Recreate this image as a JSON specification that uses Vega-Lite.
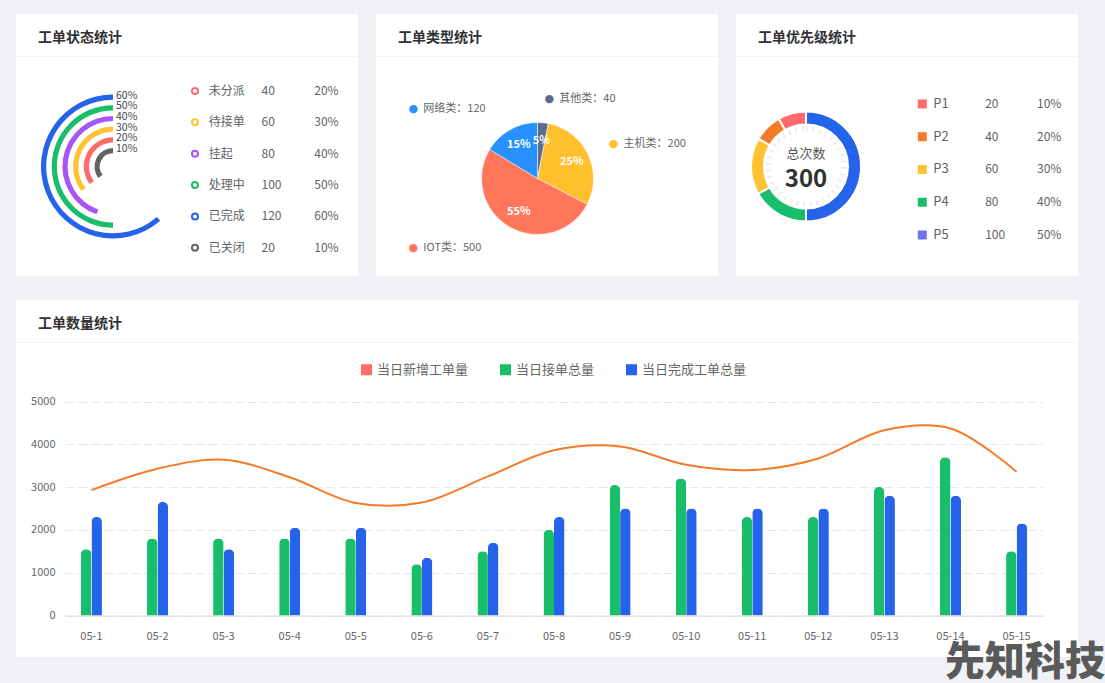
{
  "$schema": "https://vega.github.io/schema/vega-lite/v6.json",
  "background": "#f0f2f5",
  "padding": {"left": 16, "top": 14, "right": 0, "bottom": 0},
  "title": {"text": "先知科技", "orient": "bottom", "anchor": "end", "frame": "bounds", "offset": -14, "baseline": "top", "dx": 27, "fontSize": 40, "fontWeight": 900, "color": "#5a5a5a"},
  "config": {
    "font": "Noto Sans CJK SC",
    "view": {"stroke": null, "fill": "#ffffff"},
    "concat": {"spacing": 0}
  },
  "datasets": {
    "status": [
      {"status": "未分派", "count": 40, "percent": "20%", "sweep": 127},
      {"status": "待接单", "count": 60, "percent": "30%", "sweep": 128},
      {"status": "挂起", "count": 80, "percent": "40%", "sweep": 161},
      {"status": "处理中", "count": 100, "percent": "50%", "sweep": 180},
      {"status": "已完成", "count": 120, "percent": "60%", "sweep": 221},
      {"status": "已关闭", "count": 20, "percent": "10%", "sweep": 128}
    ],
    "types": [
      {"type": "其他类", "count": 40, "pct": "5%", "share": 3.1, "label": "其他类：40"},
      {"type": "主机类", "count": 200, "pct": "25%", "share": 29.5, "label": "主机类：200"},
      {"type": "IOT类", "count": 500, "pct": "55%", "share": 51.1, "label": "IOT类：500"},
      {"type": "网络类", "count": 120, "pct": "15%", "share": 16.3, "label": "网络类：120"}
    ],
    "levels": [
      {"level": "P1", "count": 20, "percent": "10%", "share": 8.3},
      {"level": "P2", "count": 40, "percent": "20%", "share": 8.3},
      {"level": "P3", "count": 60, "percent": "30%", "share": 16.7},
      {"level": "P4", "count": 80, "percent": "40%", "share": 16.7},
      {"level": "P5", "count": 100, "percent": "50%", "share": 50}
    ],
    "daily": [
      {"day": "05-1", "series": "当日新增工单量", "value": 2930},
      {"day": "05-1", "series": "当日接单总量", "value": 1550},
      {"day": "05-1", "series": "当日完成工单总量", "value": 2300},
      {"day": "05-2", "series": "当日新增工单量", "value": 3430},
      {"day": "05-2", "series": "当日接单总量", "value": 1800},
      {"day": "05-2", "series": "当日完成工单总量", "value": 2650},
      {"day": "05-3", "series": "当日新增工单量", "value": 3640},
      {"day": "05-3", "series": "当日接单总量", "value": 1800},
      {"day": "05-3", "series": "当日完成工单总量", "value": 1550},
      {"day": "05-4", "series": "当日新增工单量", "value": 3230},
      {"day": "05-4", "series": "当日接单总量", "value": 1800},
      {"day": "05-4", "series": "当日完成工单总量", "value": 2050},
      {"day": "05-5", "series": "当日新增工单量", "value": 2630},
      {"day": "05-5", "series": "当日接单总量", "value": 1800},
      {"day": "05-5", "series": "当日完成工单总量", "value": 2050},
      {"day": "05-6", "series": "当日新增工单量", "value": 2640},
      {"day": "05-6", "series": "当日接单总量", "value": 1200},
      {"day": "05-6", "series": "当日完成工单总量", "value": 1350},
      {"day": "05-7", "series": "当日新增工单量", "value": 3250},
      {"day": "05-7", "series": "当日接单总量", "value": 1500},
      {"day": "05-7", "series": "当日完成工单总量", "value": 1700},
      {"day": "05-8", "series": "当日新增工单量", "value": 3860},
      {"day": "05-8", "series": "当日接单总量", "value": 2000},
      {"day": "05-8", "series": "当日完成工单总量", "value": 2300},
      {"day": "05-9", "series": "当日新增工单量", "value": 3950},
      {"day": "05-9", "series": "当日接单总量", "value": 3050},
      {"day": "05-9", "series": "当日完成工单总量", "value": 2500},
      {"day": "05-10", "series": "当日新增工单量", "value": 3520},
      {"day": "05-10", "series": "当日接单总量", "value": 3200},
      {"day": "05-10", "series": "当日完成工单总量", "value": 2500},
      {"day": "05-11", "series": "当日新增工单量", "value": 3400},
      {"day": "05-11", "series": "当日接单总量", "value": 2300},
      {"day": "05-11", "series": "当日完成工单总量", "value": 2500},
      {"day": "05-12", "series": "当日新增工单量", "value": 3670},
      {"day": "05-12", "series": "当日接单总量", "value": 2300},
      {"day": "05-12", "series": "当日完成工单总量", "value": 2500},
      {"day": "05-13", "series": "当日新增工单量", "value": 4330},
      {"day": "05-13", "series": "当日接单总量", "value": 3000},
      {"day": "05-13", "series": "当日完成工单总量", "value": 2800},
      {"day": "05-14", "series": "当日新增工单量", "value": 4370},
      {"day": "05-14", "series": "当日接单总量", "value": 3700},
      {"day": "05-14", "series": "当日完成工单总量", "value": 2800},
      {"day": "05-15", "series": "当日新增工单量", "value": 3360},
      {"day": "05-15", "series": "当日接单总量", "value": 1500},
      {"day": "05-15", "series": "当日完成工单总量", "value": 2150}
    ]
  },
  "spacing": 24,
  "resolve": {"scale": {"color": "independent", "theta": "independent", "radius": "independent"}, "legend": {"color": "independent"}},
  "vconcat": [
    {
      "spacing": 18,
      "resolve": {"scale": {"color": "independent", "theta": "independent", "radius": "independent"}, "legend": {"color": "independent"}},
      "hconcat": [
        {
          "spacing": 1,
          "vconcat": [
            {"width": 342, "height": 42, "data": {"values": [{}]}, "mark": {"type": "rect", "color": "#ffffff"}, "encoding": {},
             "title": {"text": "工单状态统计", "anchor": "start", "frame": "group", "orient": "top", "offset": -38, "dx": 22, "baseline": "middle", "fontSize": 14, "fontWeight": "bold", "color": "#303133"}},
            {
              "spacing": 0,
              "bounds": "flush",
              "hconcat": [
                {"width": 19, "height": 219, "data": {"values": [{}]}, "mark": {"type": "rect", "color": "#ffffff"}, "encoding": {}},
                {
                  "width": 156, "height": 219,
                  "data": {"name": "status"},
                  "layer": [
                    {
                      "transform": [{"aggregate": [{"op": "count", "as": "n"}]}],
                      "mark": {"type": "rect", "color": "#ffffff"},
                      "encoding": {}
                    },
                    {
                      "mark": {"type": "arc", "radius2Offset": -5.2},
                      "encoding": {
                        "theta": {"field": "sweep", "type": "quantitative", "stack": null, "scale": {"domain": [0, 360], "range": [6.2832, 0]}},
                        "theta2": {"datum": 0},
                        "radius": {"field": "count", "type": "quantitative", "scale": {"type": "linear", "domain": [0, 120], "range": [7.8, 72], "zero": false}},
                        "radius2": {"field": "count"},
                        "color": {"field": "status", "type": "nominal", "legend": null,
                          "scale": {"domain": ["未分派", "待接单", "挂起", "处理中", "已完成", "已关闭"], "range": ["#ff6b6b", "#ffc233", "#a855f7", "#19be6b", "#2563eb", "#606266"]}}
                      }
                    },
                    {
                      "mark": {"type": "text", "align": "left", "baseline": "middle", "dx": 3, "dy": 1, "fontSize": 10.5, "color": "#444444"},
                      "encoding": {
                        "theta": {"datum": 0, "type": "quantitative"},
                        "radius": {"field": "count", "type": "quantitative"},
                        "text": {"field": "percent"}
                      }
                    }
                  ]
                },
                {
                  "width": 167, "height": 219,
                  "data": {"name": "status"},
                  "encoding": {
                    "y": {"field": "status", "type": "nominal", "axis": null,
                      "scale": {"type": "point", "domain": ["未分派", "待接单", "挂起", "处理中", "已完成", "已关闭"], "padding": 0.994, "align": 0.546}}
                  },
                  "layer": [
                    {
                      "mark": {"type": "point", "shape": "circle", "filled": false, "strokeWidth": 2, "size": 36, "xOffset": -13.7, "opacity": 1},
                      "encoding": {
                        "x": {"datum": "名称", "type": "nominal", "axis": null, "scale": {"type": "point", "domain": ["名称", "数量", "占比"], "padding": 0.581, "align": 0.288}},
                        "color": {"field": "status", "type": "nominal", "legend": null,
                          "scale": {"domain": ["未分派", "待接单", "挂起", "处理中", "已完成", "已关闭"], "range": ["#ff6b6b", "#ffc233", "#a855f7", "#19be6b", "#2563eb", "#606266"]}}
                      }
                    },
                    {
                      "mark": {"type": "text", "align": "left", "baseline": "middle", "fontSize": 12, "color": "#606266"},
                      "encoding": {"x": {"datum": "名称", "type": "nominal", "axis": null}, "text": {"field": "status"}}
                    },
                    {
                      "mark": {"type": "text", "align": "left", "baseline": "middle", "fontSize": 12, "color": "#606266"},
                      "encoding": {"x": {"datum": "数量", "type": "nominal", "axis": null}, "text": {"field": "count"}}
                    },
                    {
                      "mark": {"type": "text", "align": "left", "baseline": "middle", "fontSize": 12, "color": "#606266"},
                      "encoding": {"x": {"datum": "占比", "type": "nominal", "axis": null}, "text": {"field": "percent"}}
                    }
                  ]
                }
              ]
            }
          ]
        },
        {
          "spacing": 1,
          "vconcat": [
            {"width": 342, "height": 42, "data": {"values": [{}]}, "mark": {"type": "rect", "color": "#ffffff"}, "encoding": {},
             "title": {"text": "工单类型统计", "anchor": "start", "frame": "group", "orient": "top", "offset": -38, "dx": 22, "baseline": "middle", "fontSize": 14, "fontWeight": "bold", "color": "#303133"}},
            {
              "spacing": 0,
              "vconcat": [
                {"width": 342, "height": 24, "data": {"values": [{}]}, "mark": {"type": "rect", "color": "#ffffff"}, "encoding": {}},
                {
                  "spacing": 0,
                  "bounds": "flush",
                  "hconcat": [
                    {
                      "width": 323, "height": 195,
                      "data": {"name": "types"},
                      "layer": [
                        {
                          "transform": [{"aggregate": [{"op": "count", "as": "n"}]}],
                          "mark": {"type": "rect", "color": "#ffffff"},
                          "encoding": {}
                        },
                        {
                          "mark": {"type": "arc", "radius": 56, "stroke": "#ffffff", "strokeWidth": 0.5},
                          "encoding": {
                            "theta": {"field": "share", "type": "quantitative", "stack": true, "scale": {"domain": [0, 100], "range": [-1.0242, 5.259]}},
                            "order": {"field": "type", "type": "nominal", "sort": "descending"},
                            "color": {"field": "type", "type": "nominal", "legend": null,
                              "scale": {"domain": ["其他类", "主机类", "IOT类", "网络类"], "range": ["#5b6c8f", "#ffc02d", "#ff765b", "#2991ff"]}}
                          }
                        },
                        {
                          "mark": {"type": "text", "radius": 38, "color": "#ffffff", "fontWeight": "bold", "fontSize": 11, "align": "center", "baseline": "middle"},
                          "encoding": {
                            "theta": {"field": "share", "type": "quantitative", "stack": true},
                            "order": {"field": "type", "type": "nominal", "sort": "descending"},
                            "text": {"field": "pct"}
                          }
                        },
                        {
                          "mark": {"type": "text", "radius": 80, "align": "left", "baseline": "middle", "dx": -75, "fontSize": 11, "color": "#666666"},
                          "encoding": {
                            "theta": {"field": "share", "type": "quantitative", "stack": true},
                            "order": {"field": "type", "type": "nominal", "sort": "descending"},
                            "text": {"field": "label"},
                            "opacity": {"condition": {"test": {"field": "type", "oneOf": ["网络类", "IOT类"]}, "value": 1}, "value": 0}
                          }
                        },
                        {
                          "mark": {"type": "text", "radius": 80, "align": "center", "baseline": "middle", "dx": -85, "fontSize": 11, "font": "DejaVu Sans", "text": "●"},
                          "encoding": {
                            "theta": {"field": "share", "type": "quantitative", "stack": true},
                            "order": {"field": "type", "type": "nominal", "sort": "descending"},
                            "color": {"field": "type", "type": "nominal", "legend": null},
                            "opacity": {"condition": {"test": {"field": "type", "oneOf": ["网络类", "IOT类"]}, "value": 1}, "value": 0}
                          }
                        },
                        {
                          "mark": {"type": "text", "radius": 80, "align": "left", "baseline": "middle", "dx": 14, "fontSize": 11, "color": "#666666"},
                          "encoding": {
                            "theta": {"field": "share", "type": "quantitative", "stack": true},
                            "order": {"field": "type", "type": "nominal", "sort": "descending"},
                            "text": {"field": "label"},
                            "opacity": {"condition": {"test": {"field": "type", "oneOf": ["其他类", "主机类"]}, "value": 1}, "value": 0}
                          }
                        },
                        {
                          "mark": {"type": "text", "radius": 80, "align": "center", "baseline": "middle", "dx": 4, "fontSize": 11, "font": "DejaVu Sans", "text": "●"},
                          "encoding": {
                            "theta": {"field": "share", "type": "quantitative", "stack": true},
                            "order": {"field": "type", "type": "nominal", "sort": "descending"},
                            "color": {"field": "type", "type": "nominal", "legend": null},
                            "opacity": {"condition": {"test": {"field": "type", "oneOf": ["其他类", "主机类"]}, "value": 1}, "value": 0}
                          }
                        }
                      ]
                    },
                    {"width": 19, "height": 195, "data": {"values": [{}]}, "mark": {"type": "rect", "color": "#ffffff"}, "encoding": {}}
                  ]
                }
              ]
            }
          ]
        },
        {
          "spacing": 1,
          "vconcat": [
            {"width": 342, "height": 42, "data": {"values": [{}]}, "mark": {"type": "rect", "color": "#ffffff"}, "encoding": {},
             "title": {"text": "工单优先级统计", "anchor": "start", "frame": "group", "orient": "top", "offset": -38, "dx": 22, "baseline": "middle", "fontSize": 14, "fontWeight": "bold", "color": "#303133"}},
            {
              "spacing": 0,
              "bounds": "flush",
              "resolve": {"scale": {"color": "independent"}, "legend": {"color": "independent"}},
              "hconcat": [
                {
                  "width": 140, "height": 219,
                  "data": {"name": "levels"},
                  "layer": [
                    {
                      "transform": [{"aggregate": [{"op": "count", "as": "n"}]}],
                      "mark": {"type": "rect", "color": "#ffffff"},
                      "encoding": {}
                    },
                    {
                      "mark": {"type": "arc", "outerRadius": 55, "innerRadius": 42, "stroke": "#ffffff", "strokeWidth": 2},
                      "encoding": {
                        "theta": {"field": "share", "type": "quantitative", "stack": true, "scale": {"domain": [0, 100]}},
                        "order": {"field": "level", "type": "nominal", "sort": "descending"},
                        "color": {"field": "level", "type": "nominal", "legend": null,
                          "scale": {"domain": ["P1", "P2", "P3", "P4", "P5"], "range": ["#ff6b6b", "#f57a2b", "#ffc233", "#19be6b", "#2563eb"]}}
                      }
                    },
                    {
                      "transform": [{"aggregate": [{"op": "sum", "field": "count", "as": "total"}]}],
                      "mark": {"type": "arc", "radius": 37.5, "theta": 0, "theta2": 6.2832, "fillOpacity": 0, "stroke": "#ebebeb", "strokeWidth": 5, "strokeDash": [1.6, 5]},
                      "encoding": {}
                    },
                    {
                      "transform": [{"aggregate": [{"op": "sum", "field": "count", "as": "total"}]}],
                      "mark": {"type": "text", "text": "总次数", "dy": -13, "fontSize": 13, "color": "#555555", "align": "center", "baseline": "middle"},
                      "encoding": {}
                    },
                    {
                      "transform": [{"aggregate": [{"op": "sum", "field": "count", "as": "total"}]}],
                      "mark": {"type": "text", "dy": 13, "fontSize": 24, "fontWeight": "bold", "color": "#303133", "align": "center", "baseline": "middle"},
                      "encoding": {"text": {"field": "total", "type": "quantitative"}}
                    }
                  ]
                },
                {
                  "width": 202, "height": 219,
                  "data": {"name": "levels"},
                  "encoding": {
                    "y": {"field": "level", "type": "nominal", "axis": null,
                      "scale": {"type": "band", "domain": ["P1", "P2", "P3", "P4", "P5"], "paddingInner": 0, "paddingOuter": 0.843, "align": 0.554}}
                  },
                  "layer": [
                    {
                      "mark": {"type": "point", "shape": "square", "filled": true, "size": 81, "xOffset": -11, "opacity": 1},
                      "encoding": {
                        "x": {"datum": "名称", "type": "nominal", "axis": null, "scale": {"type": "point", "domain": ["名称", "数量", "占比"], "padding": 0.948, "align": 0.583}},
                        "color": {"field": "level", "type": "nominal", "legend": null,
                          "scale": {"domain": ["P1", "P2", "P3", "P4", "P5"], "range": ["#ff6b6b", "#f57a2b", "#ffc233", "#19be6b", "#6c74f0"]}}
                      }
                    },
                    {
                      "mark": {"type": "text", "align": "left", "baseline": "middle", "fontSize": 13, "color": "#606266"},
                      "encoding": {"x": {"datum": "名称", "type": "nominal", "axis": null}, "text": {"field": "level"}}
                    },
                    {
                      "mark": {"type": "text", "align": "left", "baseline": "middle", "fontSize": 12, "color": "#606266"},
                      "encoding": {"x": {"datum": "数量", "type": "nominal", "axis": null}, "text": {"field": "count"}}
                    },
                    {
                      "mark": {"type": "text", "align": "left", "baseline": "middle", "fontSize": 12, "color": "#606266"},
                      "encoding": {"x": {"datum": "占比", "type": "nominal", "axis": null}, "text": {"field": "percent"}}
                    }
                  ]
                }
              ]
            }
          ]
        }
      ]
    },
    {
      "spacing": 1,
      "resolve": {"scale": {"color": "independent"}, "legend": {"color": "independent"}},
      "vconcat": [
        {"width": 1062, "height": 42, "data": {"values": [{}]}, "mark": {"type": "rect", "color": "#ffffff"}, "encoding": {},
         "title": {"text": "工单数量统计", "anchor": "start", "frame": "group", "orient": "top", "offset": -38, "dx": 22, "baseline": "middle", "fontSize": 14, "fontWeight": "bold", "color": "#303133"}},
        {
          "width": 1062, "height": 314,
          "data": {"name": "daily"},
          "encoding": {
            "x": {"field": "day", "type": "nominal", "sort": null,
              "scale": {"type": "band", "domain": ["05-1", "05-2", "05-3", "05-4", "05-5", "05-6", "05-7", "05-8", "05-9", "05-10", "05-11", "05-12", "05-13", "05-14", "05-15"], "range": [49, 1027], "paddingInner": 0.682, "paddingOuter": 0.241},
              "axis": {"title": null, "offset": -41.5, "domainColor": "#d9d9d9", "ticks": false, "tickSize": 0, "labelAngle": 0, "labelPadding": 15, "labelColor": "#666666", "labelFontSize": 11, "grid": false}},
            "y": {"field": "value", "type": "quantitative",
              "scale": {"domain": [0, 5000], "range": [272.5, 58.5], "nice": false},
              "axis": {"title": null, "offset": -49, "values": [0, 1000, 2000, 3000, 4000, 5000], "format": "d", "grid": true, "gridDash": [9, 4], "gridColor": "#e8e8e8", "domain": false, "ticks": false, "tickSize": 0, "labelPadding": 10, "labelColor": "#666666", "labelFontSize": 11}}
          },
          "layer": [
            {
              "transform": [{"filter": {"not": {"field": "series", "equal": "当日新增工单量"}}}],
              "mark": {"type": "bar", "cornerRadiusTopLeft": 5, "cornerRadiusTopRight": 5},
              "encoding": {
                "xOffset": {"field": "series", "type": "nominal", "scale": {"domain": ["当日接单总量", "当日完成工单总量"], "paddingInner": 0, "paddingOuter": 0}},
                "color": {"field": "series", "type": "nominal",
                  "scale": {"domain": ["当日新增工单量", "当日接单总量", "当日完成工单总量"], "range": ["#ff6b6b", "#19be6b", "#2563eb"]},
                  "legend": {"orient": "none", "legendX": 344, "legendY": 20, "direction": "horizontal", "title": null, "symbolType": "square", "symbolSize": 121, "symbolStrokeWidth": 0, "labelFontSize": 13, "labelColor": "#666666", "columnPadding": 30, "labelOffset": 4, "padding": 0}}
              }
            },
            {
              "transform": [{"filter": {"field": "series", "equal": "当日新增工单量"}}],
              "mark": {"type": "line", "interpolate": "catmull-rom", "strokeWidth": 2, "color": "#f47b2a"},
              "encoding": {}
            }
          ]
        }
      ]
    }
  ]
}
